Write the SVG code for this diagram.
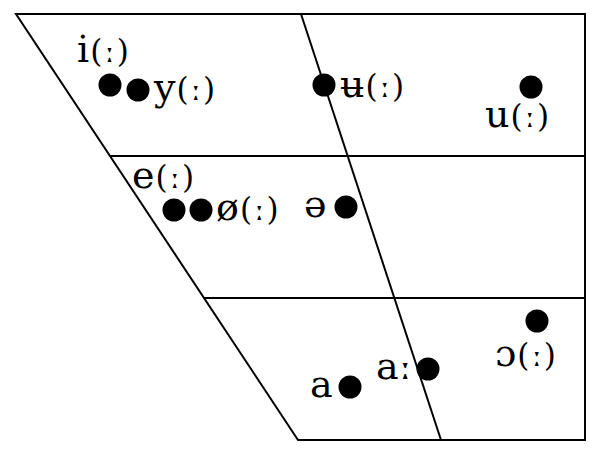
<svg xmlns="http://www.w3.org/2000/svg" width="600" height="456" viewBox="0 0 600 456">
<style>
.ln{fill:none;stroke:#000;stroke-width:2}
.dot{fill:#000}
text{font-family:"DejaVu Serif",serif;font-size:38px;fill:#000}
.p{font-size:31px;letter-spacing:2px}
</style>
<rect width="600" height="456" fill="#fff"/>
<g id="connectors">
<polygon class="ln" points="16,14 585,14 585,440 298,440"/>
<line class="ln" x1="301" y1="14" x2="441" y2="440"/>
<line class="ln" x1="110" y1="156" x2="585" y2="156"/>
<line class="ln" x1="204" y1="298" x2="585" y2="298"/>
</g>
<g id="v-i"><circle class="dot" cx="110" cy="85" r="11.5"/><text x="77" y="62">i<tspan class="p" dx="1">(ː)</tspan></text></g>
<g id="v-y"><circle class="dot" cx="138" cy="90" r="11.5"/><text x="154" y="100">y<tspan class="p" dx="1">(ː)</tspan></text></g>
<g id="v-baru"><circle class="dot" cx="324" cy="85" r="11.5"/><text x="340" y="97">ʉ<tspan class="p" dx="1">(ː)</tspan></text></g>
<g id="v-u"><circle class="dot" cx="531" cy="87" r="11.5"/><text x="485" y="127">u<tspan class="p" dx="1">(ː)</tspan></text></g>
<g id="v-e"><circle class="dot" cx="174" cy="210" r="11.5"/><text x="132" y="188">e<tspan class="p" dx="1">(ː)</tspan></text></g>
<g id="v-oe"><circle class="dot" cx="201" cy="210" r="11.5"/><text x="216" y="220">ø<tspan class="p" dx="1">(ː)</tspan></text></g>
<g id="v-schwa"><circle class="dot" cx="346" cy="207" r="11.5"/><text x="304" y="217">ə</text></g>
<g id="v-a"><circle class="dot" cx="350" cy="387" r="11.5"/><text x="310" y="397">a</text></g>
<g id="v-aa"><circle class="dot" cx="428" cy="369" r="11.5"/><text x="376" y="379">aː</text></g>
<g id="v-o"><circle class="dot" cx="537" cy="321" r="11.5"/><text x="495" y="366">ɔ<tspan class="p" dx="1">(ː)</tspan></text></g>
</svg>
